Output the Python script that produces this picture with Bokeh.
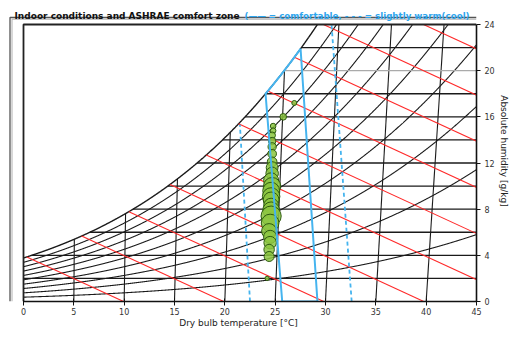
import numpy as np
from bokeh.plotting import figure
from bokeh.models import Range1d, FixedTicker, Label
from bokeh.embed import file_html
from bokeh.resources import INLINE

# ---------------- data ----------------
x_ticks = [0, 5, 10, 15, 20, 25, 30, 35, 40, 45]
y_ticks = [0, 4, 8, 12, 16, 20, 24]
rh_levels = [0.1, 0.2, 0.3, 0.4, 0.5, 0.6, 0.7, 0.8, 0.9, 1.0]
isotherms = [5, 10, 15, 20, 25, 30, 35, 40]
humidity_lines = [2, 4, 6, 8, 10, 12, 14, 16, 18, 22]
humidity_gray = [20]
enthalpy_levels = [10, 20, 30, 40, 50, 60, 70, 80, 90, 100]

comfort_bottom_x = [25.7, 29.2]      # comfortable zone, at 0 g/kg
comfort_top_w = [18.0, 21.9]         # where it meets saturation
slight_bottom_x = [22.5, 32.6]       # slightly warm(cool), at 0 g/kg
slight_top_x = [21.5, 30.6]
slight_top_w = [15.3, 24.0]

meas_temp = [26.9, 25.8, 24.8, 24.8, 24.7, 24.7, 24.7, 24.7, 24.7, 24.7, 24.7, 24.6,
             24.7, 24.6, 24.6, 24.6, 24.6, 24.6, 24.6, 24.5, 24.4, 24.5, 24.5, 24.4, 24.4, 24.2]
meas_hum = [17.2, 16.0, 15.2, 14.8, 14.4, 13.9, 13.4, 12.8, 12.1, 11.6, 11.1, 10.5,
            10.0, 9.6, 9.1, 8.8, 8.3, 7.9, 7.4, 6.8, 6.1, 5.6, 5.1, 4.5, 3.9, 2.0]
meas_hours = [8, 14, 10, 10, 14, 18, 22, 24, 30, 45, 50, 72,
              95, 90, 98, 80, 72, 90, 130, 100, 72, 55, 50, 35, 32, 6]

# ---------------- psychrometrics ----------------
P = 101.325


def psat(T):
    return 0.61094 * np.exp(17.625 * T / (T + 243.04))


def w_of(T, rh):
    pv = rh * psat(T)
    return 622.0 * pv / (P - pv)


def chart_x(T, w):
    return T + w * 1.86 * T / 1006.0


def tdew(w):
    pv = w * P / (622.0 + w)
    L = np.log(pv / 0.61094)
    return 243.04 * L / (17.625 - L)


def sat_x(w):
    t = tdew(w)
    return max(0.0, chart_x(t, w)) if t > 0 else 0.0


W_MAX = 24.0
FIG_W, FIG_H = 512, 330
B_RIGHT, B_BOTTOM = 36, 29
FRAME_W = FIG_W - B_RIGHT
FRAME_H = FIG_H - B_BOTTOM
X0_PX, Y24_PX = 23.0, 24.0
SX = (FRAME_W - X0_PX) / 45.0
SY = (FRAME_H - Y24_PX) / 24.0


def px_x(px):
    return (px - X0_PX) / SX


def px_y(py):
    return (FRAME_H - py) / SY


p = figure(width=FIG_W, height=FIG_H, x_range=Range1d(-X0_PX / SX, 45),
           y_range=Range1d(0, FRAME_H / SY),
           output_backend="svg", toolbar_location=None,
           x_axis_location="below", y_axis_location="right",
           min_border_left=0, min_border_top=0,
           min_border_right=B_RIGHT, min_border_bottom=B_BOTTOM)
p.grid.visible = False
p.outline_line_color = None
p.background_fill_color = "white"
p.border_fill_color = "white"

BLACK = "#1a1a1a"
# relative humidity curves
Tg = np.linspace(0, 55, 2201)
for rh in rh_levels:
    w = w_of(Tg, rh)
    X = chart_x(Tg, w)
    idx = np.searchsorted(w, W_MAX)
    xs = list(X[:idx])
    ys = list(w[:idx])
    if idx < len(w):
        f = (W_MAX - w[idx - 1]) / (w[idx] - w[idx - 1])
        xs.append(X[idx - 1] + f * (X[idx] - X[idx - 1]))
        ys.append(W_MAX)
    p.line(xs, ys, line_color=BLACK, line_width=1.1 if rh < 1 else 1.4)

# isotherms (slightly inclined)
for T in isotherms:
    wt = min(w_of(T, 1.0), W_MAX)
    p.line([T, chart_x(T, wt)], [0, wt], line_color=BLACK, line_width=1.1)

# constant humidity lines
for w in humidity_lines:
    p.line([sat_x(w), 45], [w, w], line_color=BLACK, line_width=1.3)
for w in humidity_gray:
    p.line([sat_x(w), 45], [w, w], line_color="#aaaaaa", line_width=1.1)

# enthalpy lines
hs_grid = 1.006 * Tg + w_of(Tg, 1.0) / 1000.0 * (2501 + 1.86 * Tg)
for h in enthalpy_levels:
    Ts = float(np.interp(h, hs_grid, Tg))
    ws = min(float(w_of(Ts, 1.0)), W_MAX)
    x0 = h / 1.006 - ws * 2501 / 1006.0
    x1 = h / 1.006
    p.line([x0, x1], [ws, 0], line_color="#ff2a2a", line_width=1.1)

# measured bubbles
sizes = 2.5 * np.sqrt(np.array(meas_hours) / 2.0)
p.scatter(meas_temp, meas_hum, size=sizes, fill_color="#8cc63f", fill_alpha=0.85,
          line_color="#2e5b10", line_width=1)

# comfort zones
BLUE = "#45b4ef"
wc = np.linspace(comfort_top_w[0], comfort_top_w[1], 40)
cx = [comfort_bottom_x[0]] + [sat_x(v) for v in wc] + [comfort_bottom_x[1], comfort_bottom_x[0]]
cy = [0] + list(wc) + [0, 0]
p.line(cx, cy, line_color=BLUE, line_width=2)
for b, tx, tw in zip(slight_bottom_x, slight_top_x, slight_top_w):
    p.line([b, tx], [0, tw], line_color=BLUE, line_width=1.8, line_dash="4 3")

# plot-area border (left and top)
p.line([0, 0, 45], [0, W_MAX, W_MAX], line_color="#222222", line_width=1.8)

# outer chart frame
xo = px_x(9.5)
yo = px_y(17.0)
p.line([xo, xo, 45], [0, yo, yo], line_color="#555555", line_width=1.3)
p.line([xo + 0.2, xo + 0.2, 45], [0, yo - 0.15, yo - 0.15], line_color="#b0b0b0", line_width=1)

# title
p.add_layout(Label(x=px_x(14), y=px_y(15.8),
                   text="Indoor conditions and ASHRAE comfort zone",
                   text_font="DejaVu Sans", text_font_style="bold", text_font_size="9px",
                   text_color="#111111", text_baseline="alphabetic", text_align="left"))
p.add_layout(Label(x=px_x(244), y=px_y(15.8),
                   text="(\u2014\u2014 = comfortable, - - - = slightly warm(cool)",
                   text_font="DejaVu Sans", text_font_style="bold", text_font_size="8.7px",
                   text_color="#2fa6ee", text_baseline="alphabetic", text_align="left"))

# axes
xa = p.xaxis[0]
xa.bounds = (0, 45)
xa.ticker = FixedTicker(ticks=x_ticks)
xa.minor_tick_line_color = None
xa.major_tick_in = 3
xa.major_tick_out = 4
xa.axis_line_width = 1.6
xa.axis_line_color = "#111111"
xa.major_tick_line_color = "#111111"
xa.major_label_text_font = "DejaVu Sans"
xa.major_label_text_font_size = "8px"
xa.major_label_text_color = "#333333"
xa.major_label_standoff = 2
xa.axis_label = "Dry bulb temperature [\u00b0C]"
xa.axis_label_text_font = "DejaVu Sans"
xa.axis_label_text_font_size = "9px"
xa.axis_label_text_font_style = "normal"
xa.axis_label_text_color = "#222222"
xa.axis_label_standoff = 0

ya = p.yaxis[0]
ya.bounds = (0, 24)
ya.ticker = FixedTicker(ticks=y_ticks)
ya.minor_tick_line_color = None
ya.major_tick_in = 0
ya.major_tick_out = 4
ya.axis_line_width = 1.6
ya.axis_line_color = "#111111"
ya.major_tick_line_color = "#111111"
ya.major_label_text_font = "DejaVu Sans"
ya.major_label_text_font_size = "8px"
ya.major_label_text_color = "#333333"
ya.major_label_standoff = 4
ya.axis_label = "Absolute humidity [g/kg]"
ya.axis_label_text_font = "DejaVu Sans"
ya.axis_label_text_font_size = "9px"
ya.axis_label_text_font_style = "normal"
ya.axis_label_text_color = "#222222"
ya.axis_label_standoff = 1

open("out.html", "w").write(file_html(p, INLINE))
